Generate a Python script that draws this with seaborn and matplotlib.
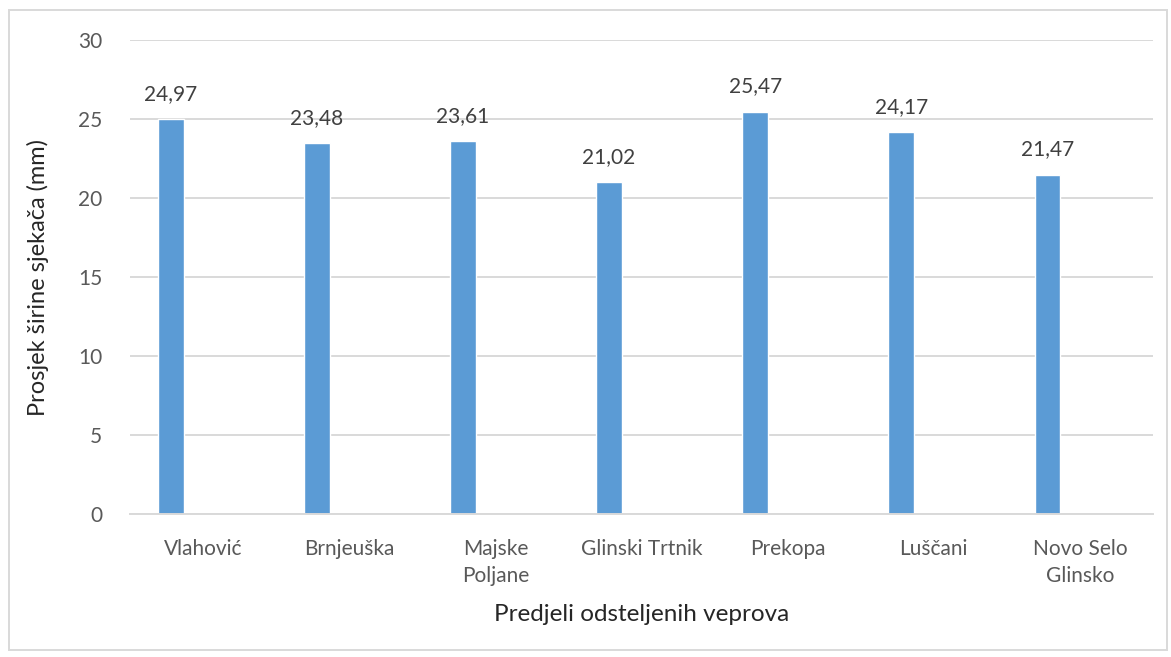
import matplotlib

matplotlib.use("Agg")
import matplotlib.pyplot as plt
import pandas as pd
import seaborn as sns
from matplotlib.patches import Rectangle

# data
REGIONS = ["Vlahović", "Brnjeuška", "Majske\nPoljane", "Glinski Trtnik",
           "Prekopa", "Luščani", "Novo Selo\nGlinsko"]
MEAN_WIDTH = [24.97, 23.48, 23.61, 21.02, 25.47, 24.17, 21.47]
Y_TICKS = [0, 5, 10, 15, 20, 25, 30]

BAR_COLOR = "#5B9BD5"
GRID_COLOR = "#D9D9D9"
TEXT_GRAY = "#595959"


def main() -> None:
    sns.set_theme(style="white")
    plt.rcParams["font.family"] = ["Lato", "DejaVu Sans"]

    df = pd.DataFrame({"region": REGIONS, "width": MEAN_WIDTH})

    fig = plt.figure(figsize=(11.71, 6.57), dpi=100)
    ax = fig.add_axes([130 / 1171, 1 - 514 / 657, 1023 / 1171, 474 / 657])

    sns.barplot(data=df, x="region", y="width", color=BAR_COLOR,
                width=0.177, saturation=1, ax=ax)

    # Excel-style clustered layout: bar sits left of the category centre
    for patch in ax.patches:
        patch.set_x(patch.get_x() - 0.222)

    ax.bar_label(ax.containers[0],
                 labels=[f"{v:.2f}".replace(".", ",") for v in MEAN_WIDTH],
                 padding=11, fontsize=15, color="#404040")

    ax.set_ylim(0, 30)
    ax.set_xlim(-0.5, len(REGIONS) - 0.5)
    ax.set_yticks(Y_TICKS)
    ax.yaxis.grid(True, color=GRID_COLOR, linewidth=1.4)
    ax.set_axisbelow(True)
    for side in ("top", "right", "left"):
        ax.spines[side].set_visible(False)
    ax.spines["bottom"].set_color(GRID_COLOR)
    ax.spines["bottom"].set_linewidth(1.4)

    ax.tick_params(axis="both", length=0, labelsize=15, labelcolor=TEXT_GRAY)
    ax.tick_params(axis="x", pad=18)
    ax.tick_params(axis="y", pad=20)
    for lbl in ax.get_xticklabels():
        lbl.set_linespacing(1.45)

    ax.set_xlabel("Predjeli odsteljenih veprova", fontsize=17.5,
                  color="#262626", labelpad=13)
    ax.set_ylabel("Prosjek širine sjekača (mm)", fontsize=17,
                  color="#262626", labelpad=21)

    # chart area border
    fig.patches.append(Rectangle((9 / 1171, 7 / 657), 1158 / 1171, 640 / 657,
                                 transform=fig.transFigure, fill=False,
                                 edgecolor=GRID_COLOR, linewidth=1.4))

    fig.savefig("out.png", dpi=100)
    plt.close(fig)


if __name__ == "__main__":
    main()
